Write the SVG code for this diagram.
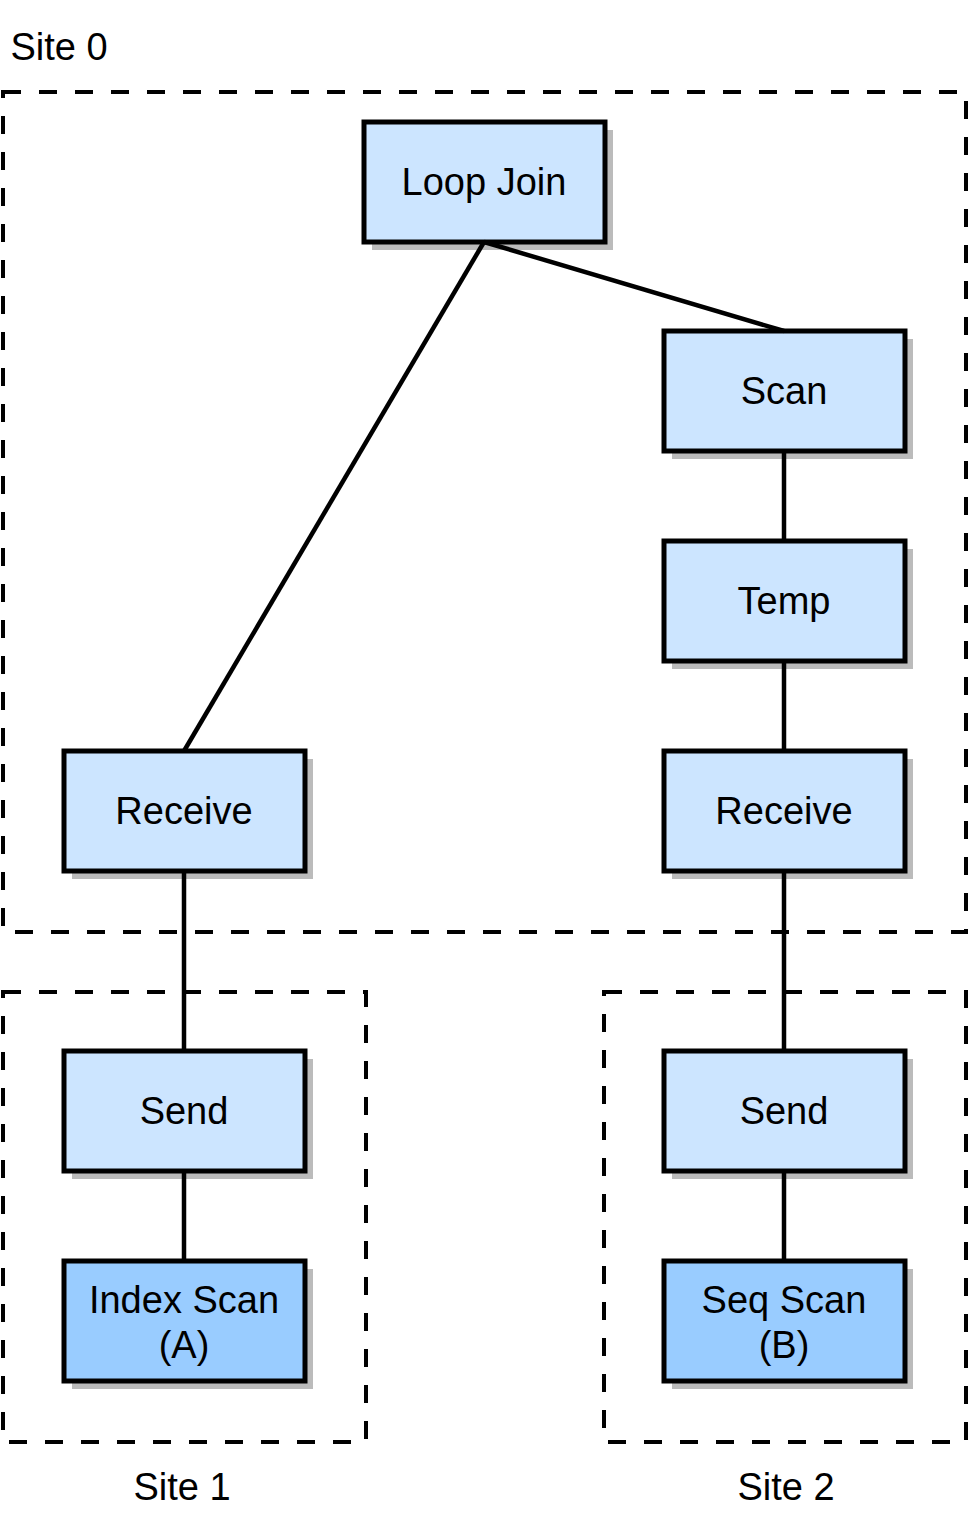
<svg xmlns="http://www.w3.org/2000/svg" width="972" height="1533" viewBox="0 0 972 1533">
<style>
.site{fill:none;stroke:#000;stroke-width:4;stroke-dasharray:18 18}
.box{stroke:#000;stroke-width:5}
.light{fill:#cce5ff}
.dark{fill:#99ccff}
.sh{fill:#bbbbbb}
.t{font-family:"Liberation Sans",Arial,sans-serif;font-size:38px;fill:#000;text-anchor:middle}
.ln{stroke:#000;stroke-width:4.5;fill:none}
</style>
<rect x="0" y="0" width="972" height="1533" fill="#fff"/>
<g id="site0">
<rect class="site" x="3" y="92" width="963" height="840"/>
<text class="t" x="59" y="60">Site 0</text>
</g>
<g id="site1">
<rect class="site" x="3" y="992" width="363" height="450"/>
<text class="t" x="182" y="1500">Site 1</text>
</g>
<g id="site2">
<rect class="site" x="604" y="992" width="362" height="450"/>
<text class="t" x="786" y="1500">Site 2</text>
</g>
<g id="loopjoin">
<rect class="sh" x="372" y="130" width="241" height="120"/>
<rect class="box light" x="364" y="122" width="241" height="120"/>
<text class="t" x="484" y="195">Loop Join</text>
</g>
<g id="scan">
<rect class="sh" x="672" y="339" width="241" height="120"/>
<rect class="box light" x="664" y="331" width="241" height="120"/>
<text class="t" x="784" y="404">Scan</text>
</g>
<g id="temp">
<rect class="sh" x="672" y="549" width="241" height="120"/>
<rect class="box light" x="664" y="541" width="241" height="120"/>
<text class="t" x="784" y="614">Temp</text>
</g>
<g id="receive1">
<rect class="sh" x="72" y="759" width="241" height="120"/>
<rect class="box light" x="64" y="751" width="241" height="120"/>
<text class="t" x="184" y="824">Receive</text>
</g>
<g id="receive2">
<rect class="sh" x="672" y="759" width="241" height="120"/>
<rect class="box light" x="664" y="751" width="241" height="120"/>
<text class="t" x="784" y="824">Receive</text>
</g>
<g id="send1">
<rect class="sh" x="72" y="1059" width="241" height="120"/>
<rect class="box light" x="64" y="1051" width="241" height="120"/>
<text class="t" x="184" y="1124">Send</text>
</g>
<g id="send2">
<rect class="sh" x="672" y="1059" width="241" height="120"/>
<rect class="box light" x="664" y="1051" width="241" height="120"/>
<text class="t" x="784" y="1124">Send</text>
</g>
<g id="indexscan">
<rect class="sh" x="72" y="1269" width="241" height="120"/>
<rect class="box dark" x="64" y="1261" width="241" height="120"/>
<text class="t" x="184" y="1313">Index Scan</text>
<text class="t" x="184" y="1358">(A)</text>
</g>
<g id="seqscan">
<rect class="sh" x="672" y="1269" width="241" height="120"/>
<rect class="box dark" x="664" y="1261" width="241" height="120"/>
<text class="t" x="784" y="1313">Seq Scan</text>
<text class="t" x="784" y="1358">(B)</text>
</g>
<g id="connectors">
<line class="ln" x1="484" y1="242" x2="184" y2="751"/>
<line class="ln" x1="484" y1="242" x2="784" y2="331"/>
<line class="ln" x1="784" y1="451" x2="784" y2="541"/>
<line class="ln" x1="784" y1="661" x2="784" y2="751"/>
<line class="ln" x1="184" y1="871" x2="184" y2="1051"/>
<line class="ln" x1="784" y1="871" x2="784" y2="1051"/>
<line class="ln" x1="184" y1="1171" x2="184" y2="1261"/>
<line class="ln" x1="784" y1="1171" x2="784" y2="1261"/>
</g>
</svg>
